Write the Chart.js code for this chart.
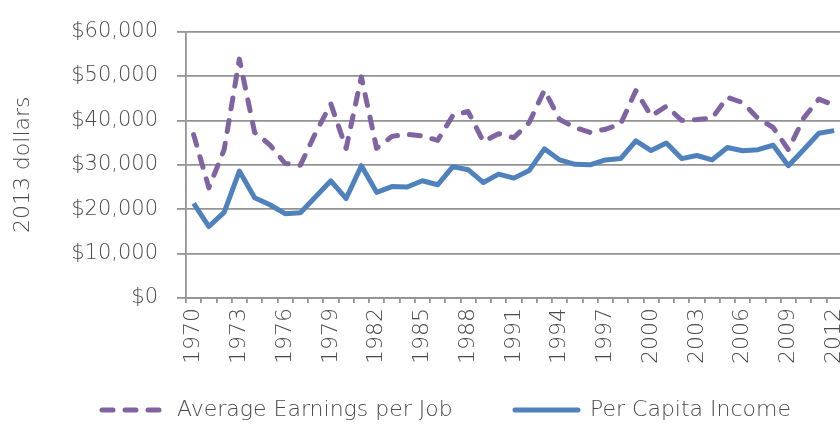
<!DOCTYPE html>
<html>
<head>
<meta charset="utf-8">
<script src="https://cdn.jsdelivr.net/npm/chart.js@4.4.1/dist/chart.umd.min.js"></script>
<style>
html,body{margin:0;padding:0;background:#fff;overflow:hidden;width:840px;height:427px;}
canvas{display:block;}
</style>
</head>
<body>
<canvas id="c" width="870" height="427"></canvas>
<script>
const years = [1970,1971,1972,1973,1974,1975,1976,1977,1978,1979,1980,1981,1982,1983,1984,1985,1986,1987,1988,1989,1990,1991,1992,1993,1994,1995,1996,1997,1998,1999,2000,2001,2002,2003,2004,2005,2006,2007,2008,2009,2010,2011,2012];
const avgEarningsPerJob = [36800,24800,33400,53800,37300,34500,30300,29900,37200,43700,33700,49800,33700,36400,36900,36500,35500,41100,42000,35200,37000,36100,39500,46800,40200,38400,37300,38000,39200,46700,41000,43200,40000,40200,40500,45200,44000,40500,38400,33400,40500,44800,43400];
const perCapitaIncome = [21300,16100,19300,28600,22600,21000,19000,19200,22800,26400,22400,29800,23800,25100,25000,26400,25500,29600,28900,26000,27900,27000,28700,33600,31100,30100,30000,31100,31400,35400,33200,34900,31400,32100,31100,33900,33150,33400,34400,29800,33400,37100,37700];
const yTickLabels = ['$0','$10,000','$20,000','$30,000','$40,000','$50,000','$60,000'];
const seriesNames = ['Average Earnings per Job','Per Capita Income'];
const yTitle = '2013 dollars';

const FONT = "'DejaVu Sans'";
const TXT = '#4a4a4a';
const GRID = '#939393';

const legendPlugin = {
  id: 'customLegend',
  afterDraw(chart) {
    const ctx = chart.ctx;
    const y = 410;
    const items = [
      {x0: 100, x1: 162, tx: 177},
      {x0: 515, x1: 578, tx: 590}
    ];
    chart.data.datasets.forEach((ds, i) => {
      const it = items[i];
      ctx.save();
      ctx.strokeStyle = ds.borderColor;
      ctx.lineWidth = ds.borderWidth;
      ctx.lineCap = 'round';
      ctx.setLineDash(ds.borderDash || []);
      ctx.beginPath();
      ctx.moveTo(it.x0 + (ds.borderDash ? 2 : 0), y);
      ctx.lineTo(it.x1, y);
      ctx.stroke();
      ctx.setLineDash([]);
      ctx.fillStyle = TXT;
      ctx.font = "200 22px " + FONT;
      ctx.textBaseline = 'middle';
      ctx.textAlign = 'left';
      ctx.fillText(ds.label, it.tx, y);
      ctx.restore();
    });
  }
};

new Chart(document.getElementById('c'), {
  type: 'line',
  data: {
    labels: years,
    datasets: [
      {
        label: seriesNames[0],
        data: avgEarningsPerJob,
        borderColor: '#8064A2',
        borderWidth: 5,
        borderDash: [11, 12],
        borderCapStyle: 'round',
        borderJoinStyle: 'round',
        pointRadius: 0,
        tension: 0,
        fill: false
      },
      {
        label: seriesNames[1],
        data: perCapitaIncome,
        borderColor: '#4F81BD',
        borderWidth: 5,
        borderCapStyle: 'butt',
        borderJoinStyle: 'round',
        pointRadius: 0,
        tension: 0,
        fill: false
      }
    ]
  },
  options: {
    responsive: false,
    animation: false,
    devicePixelRatio: 1,
    layout: {padding: {left: 0, right: 28.25, top: 19.5, bottom: 60}},
    plugins: {legend: {display: false}, tooltip: {enabled: false}},
    scales: {
      x: {
        type: 'category',
        offset: true,
        grid: {offset: true, drawOnChartArea: false, drawTicks: true, tickLength: 5, color: GRID, lineWidth: 1.8},
        border: {display: true, color: GRID, width: 1.8},
        ticks: {
          autoSkip: false, maxRotation: 90, minRotation: 90, padding: 5,
          color: TXT, font: {family: FONT, size: 22, weight: 200},
          callback: function(v, i) { return i % 3 === 0 ? String(years[i]) : ''; }
        },
        afterFit(s) { s.height = 69; }
      },
      y: {
        min: 0, max: 60000,
        grid: {color: GRID, lineWidth: 1.8, tickLength: 9, drawTicks: true},
        border: {display: true, color: GRID, width: 1.8},
        ticks: {
          stepSize: 10000, padding: 19, color: TXT,
          font: {family: FONT, size: 21, weight: 200},
          callback: function(v) { return yTickLabels[Math.round(v / 10000)]; }
        },
        title: {display: true, text: yTitle, color: TXT, font: {family: FONT, size: 22, weight: 200}, padding: {top: 10, bottom: 0}},
        afterFit(s) { s.width = 186; }
      }
    }
  },
  plugins: [legendPlugin]
});
</script>
</body>
</html>
